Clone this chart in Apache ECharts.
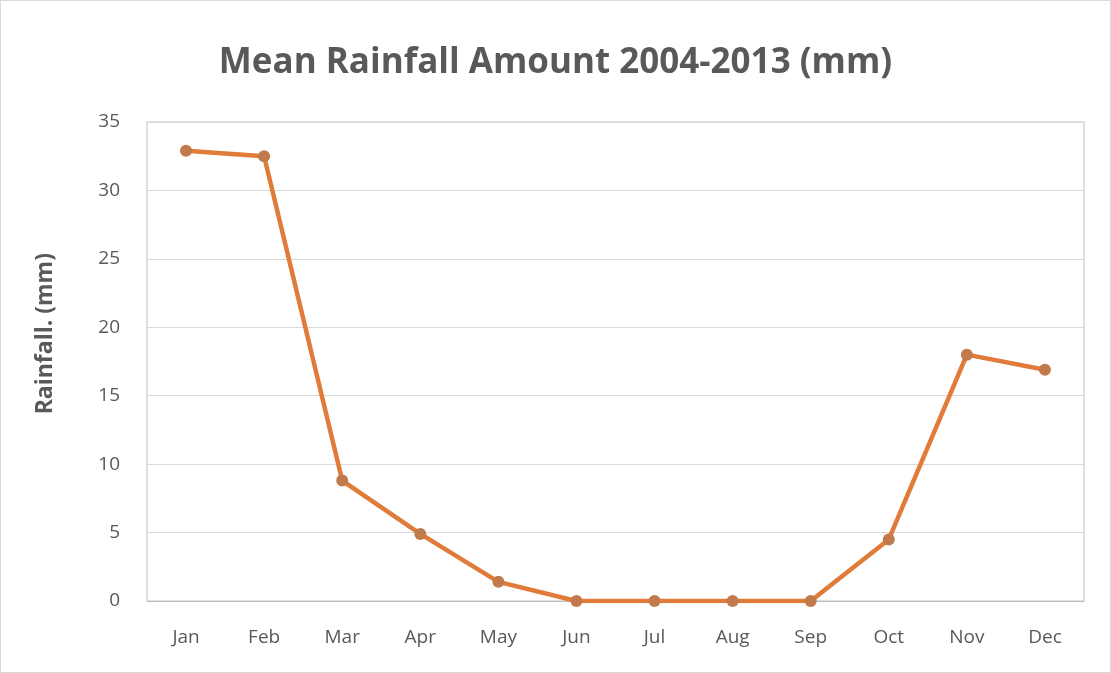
<!DOCTYPE html>
<html>
<head>
<meta charset="utf-8">
<script src="https://cdn.jsdelivr.net/npm/echarts@6/dist/echarts.min.js"></script>
<style>
html,body{margin:0;padding:0;background:#fff;}
#c{width:1111px;height:673px;box-sizing:border-box;border:1px solid #d9d9d9;}
</style>
</head>
<body>
<div id="c"></div>
<script>
const months = ['Jan','Feb','Mar','Apr','May','Jun','Jul','Aug','Sep','Oct','Nov','Dec'];
const rainfall = [32.9, 32.5, 8.8, 4.9, 1.4, 0, 0, 0, 0, 4.5, 18.0, 16.9];
const yTicks = [0, 5, 10, 15, 20, 25, 30, 35];

const chart = echarts.init(document.getElementById('c'), null, {renderer:'canvas'});
const font = "'Open Sans', 'Noto Sans', sans-serif";
chart.setOption({
  animation:false,
  title:{
    text:'Mean Rainfall Amount 2004-2013 (mm)',
    left:'center', top:40,
    textStyle:{fontFamily:font, fontSize:35, fontWeight:'bold', color:'#595959'}
  },
  graphic:[{
    type:'text', left:33, top:252, rotation:Math.PI/2,
    style:{text:'Rainfall. (mm)', fontFamily:font, fontSize:23, fontWeight:'bold', fill:'#595959'}
  }],
  grid:{left:146, right:26, top:121, bottom:71, show:true, borderColor:'#bfbfbf', borderWidth:1},
  xAxis:{
    type:'category', data:months, boundaryGap:true,
    axisLine:{show:true, lineStyle:{color:'#bfbfbf'}},
    axisTick:{show:false},
    axisLabel:{fontFamily:font, fontSize:19, color:'#595959', margin:27}
  },
  yAxis:{
    type:'value', min:yTicks[0], max:yTicks[yTicks.length-1], interval:5,
    axisLine:{show:false}, axisTick:{show:false},
    axisLabel:{fontFamily:font, fontSize:19, color:'#595959', margin:27},
    splitLine:{lineStyle:{color:'#d9d9d9', width:1}}
  },
  series:[{
    type:'line', data:rainfall,
    symbol:'circle', symbolSize:12,
    lineStyle:{color:'#E07B39', width:4.5},
    itemStyle:{color:'#C07A4C'}
  }]
});
</script>
</body>
</html>
